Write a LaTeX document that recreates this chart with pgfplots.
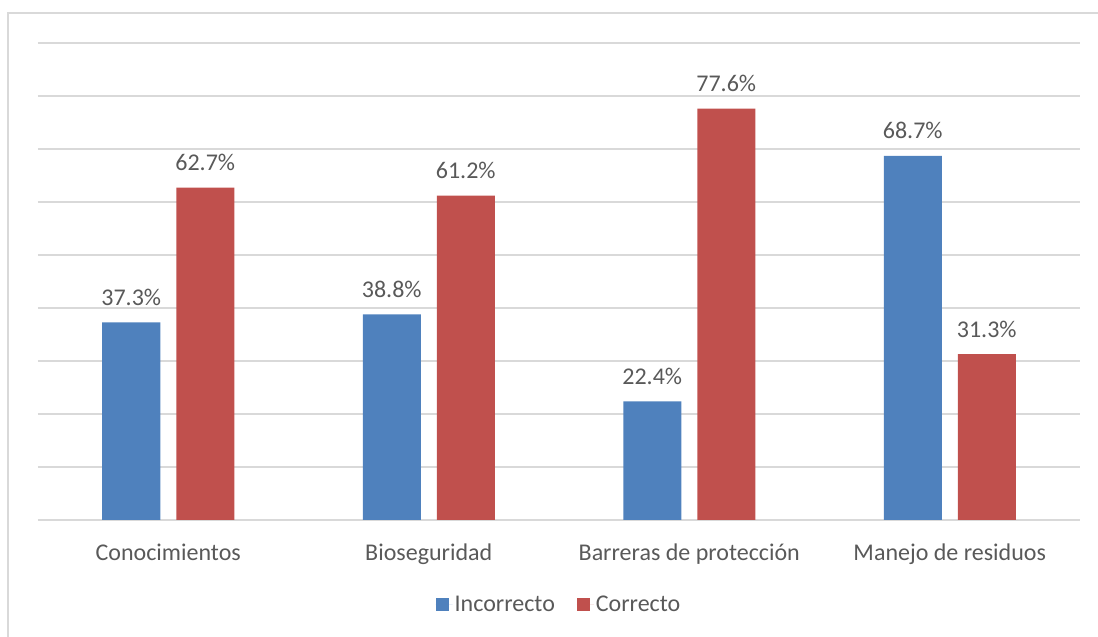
\documentclass[border=0pt]{standalone}
\usepackage{fontspec}
\setmainfont{Carlito}
\usepackage{pgfplots}
\pgfplotsset{compat=1.18}
\definecolor{cblue}{HTML}{4F81BD}
\definecolor{cred}{HTML}{C0504D}
\definecolor{cgrid}{HTML}{D9D9D9}
\definecolor{ctext}{HTML}{595959}
\begin{document}
\begin{tikzpicture}[x=1pt,y=1pt]
\useasboundingbox (0,0) rectangle (1098,637);
\draw[cgrid,line width=1.5pt] (8,0) -- (8,624) -- (1098,624);
\begin{axis}[
  at={(38pt,117pt)}, anchor=south west,
  scale only axis, width=1042pt, height=477pt,
  ybar, bar width=58pt,
  xmin=-0.5, xmax=3.5, ymin=0, ymax=90,
  xtick={0,1,2,3},
  xticklabels={Conocimientos,Bioseguridad,Barreras de protección,Manejo de residuos},
  ytick={0,10,...,90}, yticklabels={},
  ymajorgrids, grid style={cgrid,line width=1.2pt},
  axis line style={draw=none}, major tick length=0pt,
  xticklabel style={anchor=base, yshift=-41pt, font=\fontsize{24}{28}\selectfont, text=ctext},
  /pgf/number format/assume math mode=true,
  nodes near coords={\pgfmathprintnumber[fixed,precision=1,fixed zerofill]{\pgfplotspointmeta}\%},
  nodes near coords style={anchor=base, yshift=17pt, font=\fontsize{24}{28}\selectfont, text=ctext},
  legend columns=2,
  legend style={at={(rel axis cs:0.5,-0.178)}, anchor=center, draw=none, fill=none,
    font=\fontsize{24}{28}\selectfont, text=ctext,
    /tikz/every even column/.append style={column sep=20pt}},
  legend image code/.code={\fill[#1] (0pt,-6.5pt) rectangle (13pt,6.5pt); \path (0pt,0pt) -- (17pt,0pt);},
]
\addplot[fill=cblue, draw=none, bar shift=-37pt] coordinates {(0,37.3) (1,38.8) (2,22.4) (3,68.7)};
\addplot[fill=cred, draw=none, bar shift=37pt] coordinates {(0,62.7) (1,61.2) (2,77.6) (3,31.3)};
\legend{Incorrecto,Correcto}
\end{axis}
\end{tikzpicture}
\end{document}
